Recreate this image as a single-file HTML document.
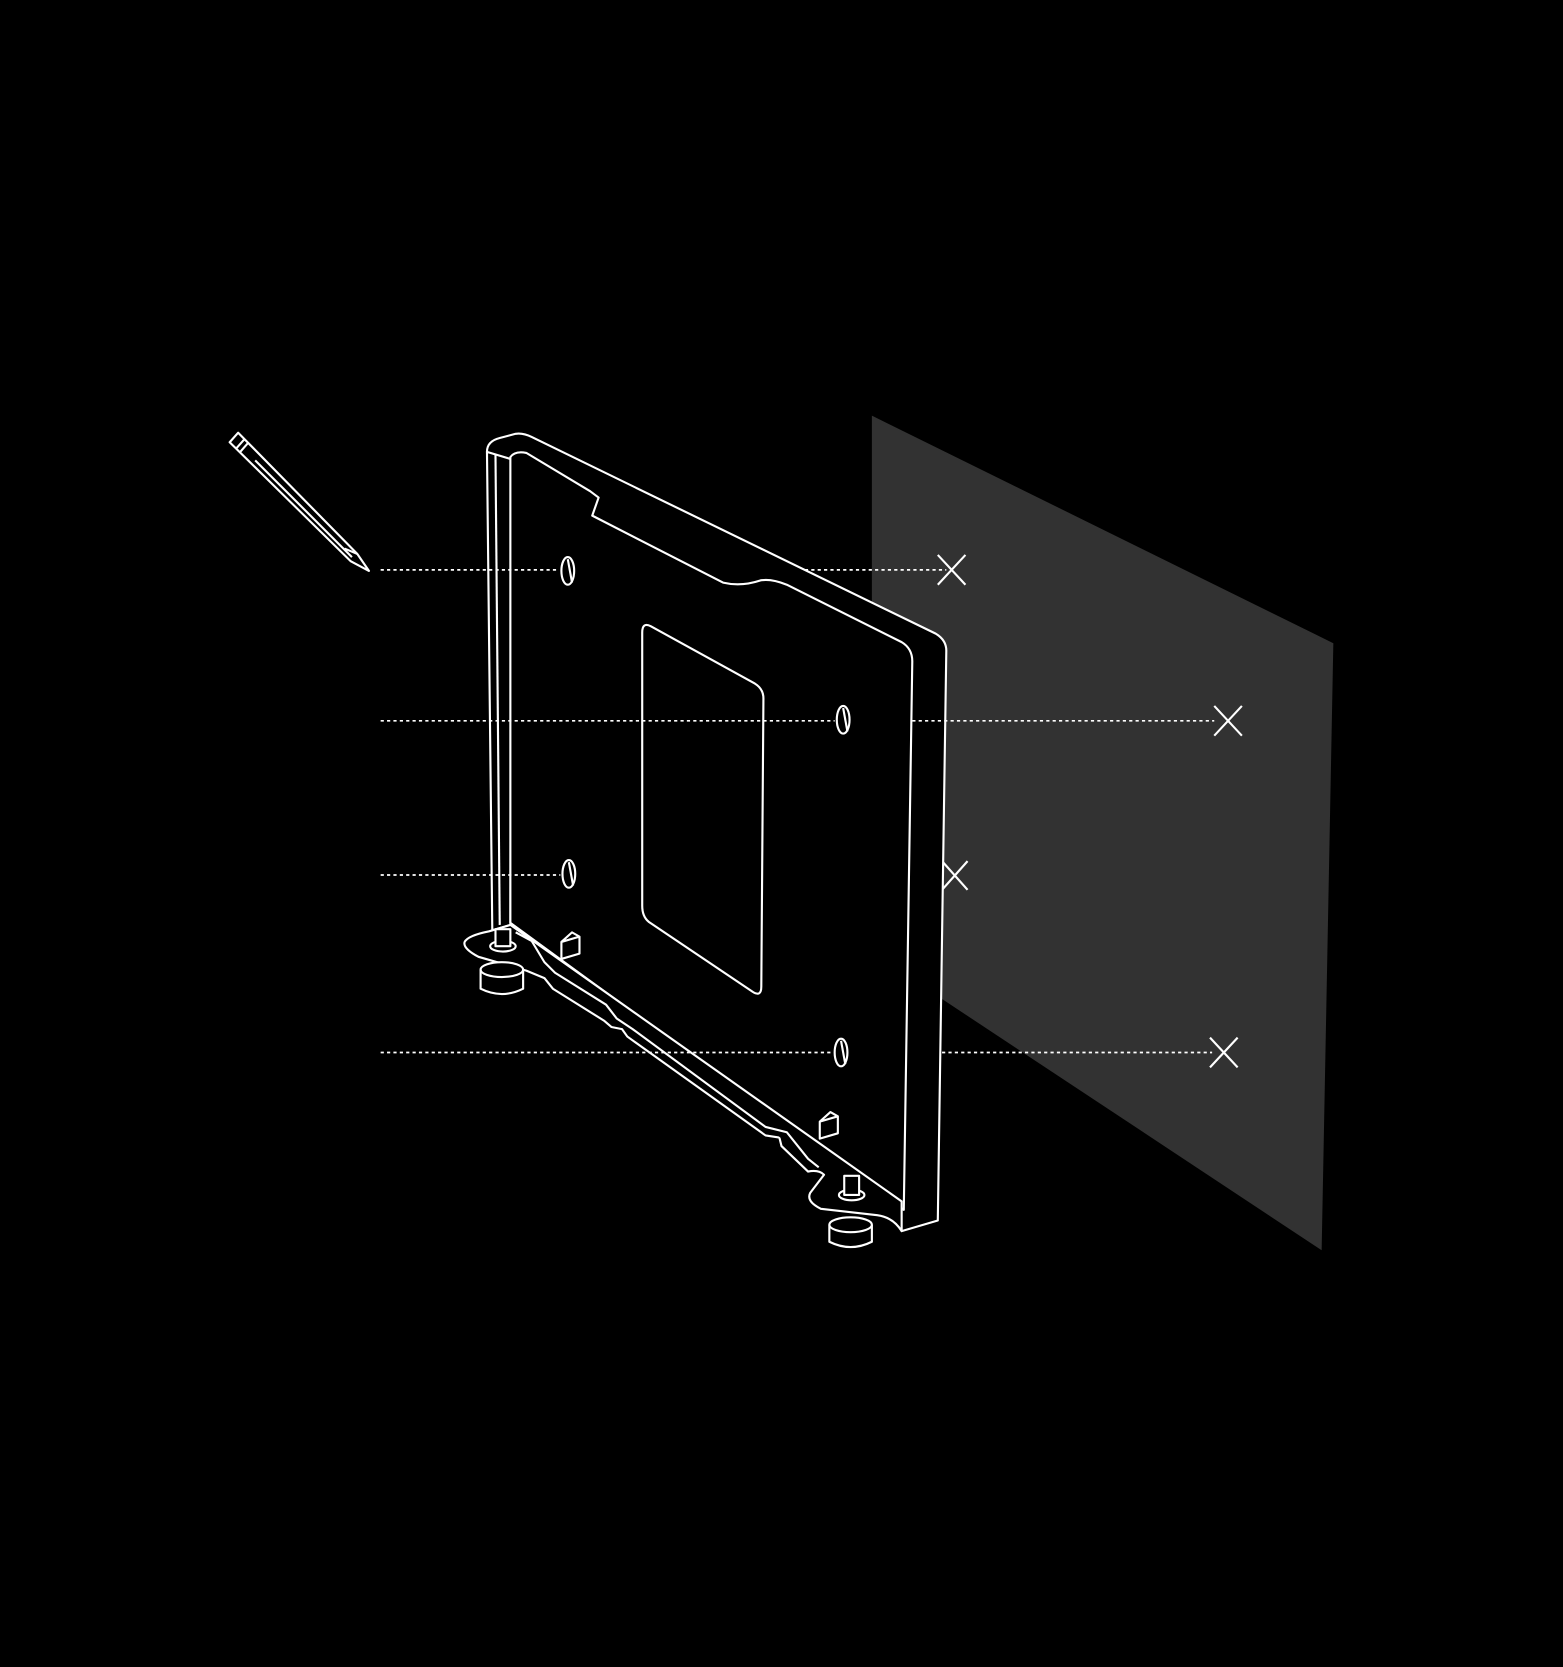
<!DOCTYPE html>
<html><head><meta charset="utf-8"><style>html,body{margin:0;padding:0;background:#000;}svg{display:block}</style></head>
<body>
<svg width="1563" height="1667" viewBox="0 0 1470 1568" preserveAspectRatio="none" xmlns="http://www.w3.org/2000/svg">
<rect width="1470" height="1568" fill="#000"/>
<polygon points="820,391 1254,605 1243,1176 820,896" fill="#323232"/>
<g stroke="#fff" stroke-width="2" fill="none">
<path d="M882,522 L908,550 M908,522 L882,550"/>
<path d="M1142,664 L1168,692 M1168,664 L1142,692"/>
<path d="M886,810 L910,837 M910,810 L886,837"/>
<path d="M1138,976 L1164,1004 M1164,976 L1138,1004"/>
</g>
<g stroke="#fff" stroke-width="2" fill="#000" stroke-linejoin="round">
<path d="M458,425 Q458,415 470,412 L485,408 Q492,407 500,411 L880,596 Q890,602 890,612 L882,1148 L848,1158 L846,1140 L848,1130 Z"/>
<path d="M458,425 L463,875 L480,870 L481,432 Z"/>
<line x1="466" y1="428" x2="470" y2="870"/>
<path d="M480,430 Q484,424 495,426 L555,462 L563,468 L557,485 L680,548 Q697,552 715,546 Q725,544 740,550 L848,604 Q858,610 858,622 L850,1138 L480,868 Z"/>
<path d="M604,595 Q604,585 612,589 L710,643 Q718,648 718,657 L716,928 Q716,938 708,933 L610,867 Q604,862 604,852 Z"/>
<path d="M480,870 L848,1130 L848,1158 Q840,1145 825,1143 L772,1137 Q758,1130 762,1122 L775,1105 Q770,1100 760,1102 L735,1078 L733,1070 L720,1068 L590,975 L585,968 L575,966 L568,960 L520,930 L512,920 L495,913 L450,900 Q435,892 437,886 Q440,880 460,876 Z"/>
<path d="M485,877 L500,885 L512,905 L522,915 L570,945 L580,958 L595,968 L720,1060 L740,1065 L760,1090 L770,1098" />
<path d="M528,886 L538,877 L545,881 L545,897 L528,902 Z M528,886 L545,881"/>
<path d="M771,1055 L781,1046 L788,1050 L788,1066 L771,1071 Z M771,1055 L788,1050"/>
<path d="M452,912 L452,930 Q472,940 492,930 L492,912"/>
<ellipse cx="472" cy="912" rx="20" ry="7"/>
<ellipse cx="473" cy="890" rx="12" ry="5"/>
<rect x="466" y="874" width="14" height="16"/>
<path d="M780,1152 L780,1168 Q800,1178 820,1168 L820,1152"/>
<ellipse cx="800" cy="1152" rx="20" ry="7"/>
<ellipse cx="801" cy="1124" rx="12" ry="5"/>
<rect x="794" y="1106" width="14" height="18"/>
<path d="M216,416 L224,407 L336,521 L347,537 L330,528 Z"/>
<line x1="222" y1="422" x2="230" y2="413"/>
<line x1="226" y1="425" x2="233" y2="417"/>
<line x1="240" y1="433" x2="331" y2="524"/>
<line x1="324" y1="516" x2="336" y2="521"/>
</g>
<g fill="none" stroke="#fff" stroke-width="1.6" stroke-dasharray="3,3">
<line x1="358" y1="536" x2="525" y2="536"/><line x1="757" y1="536" x2="890" y2="536"/>
<line x1="358" y1="678" x2="785" y2="678"/><line x1="858" y1="678" x2="1142" y2="678"/>
<line x1="358" y1="823" x2="527" y2="823"/>
<line x1="358" y1="990" x2="783" y2="990"/><line x1="886" y1="990" x2="1140" y2="990"/>
</g>
<g stroke="#fff" stroke-width="2" fill="#000">
<ellipse cx="534" cy="537" rx="6" ry="13"/><line x1="534" y1="526" x2="538" y2="548"/>
<ellipse cx="793" cy="677" rx="6" ry="13"/><line x1="793" y1="666" x2="797" y2="688"/>
<ellipse cx="535" cy="822" rx="6" ry="13"/><line x1="535" y1="811" x2="539" y2="833"/>
<ellipse cx="791" cy="990" rx="6" ry="13"/><line x1="791" y1="979" x2="795" y2="1001"/>
</g>
</svg>
</body></html>
